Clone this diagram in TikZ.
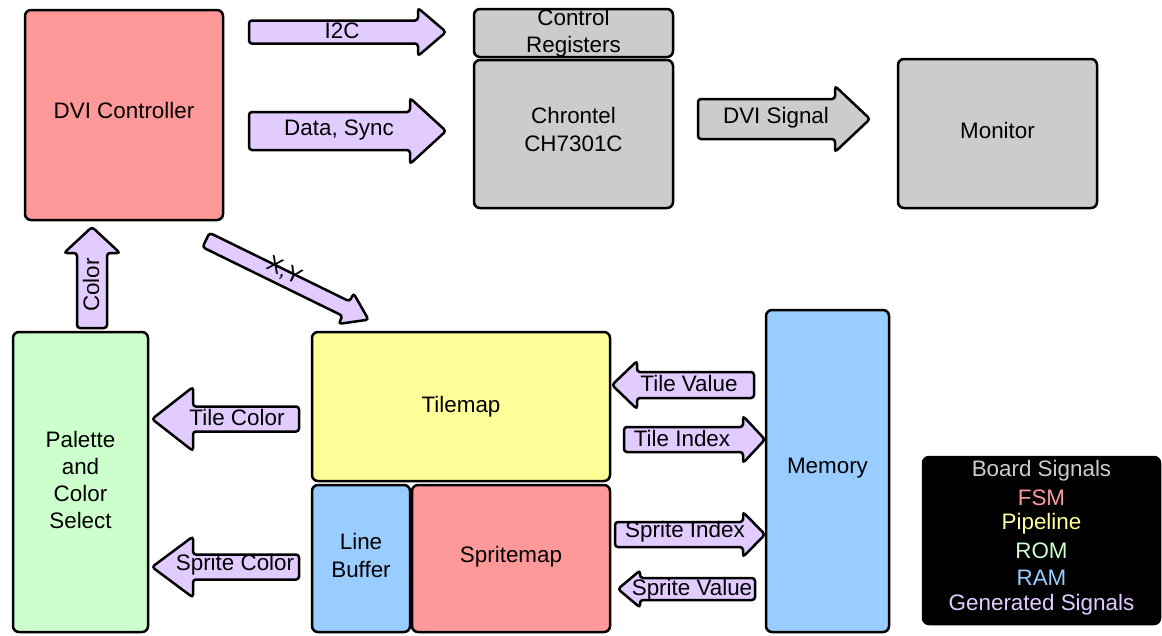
\documentclass[tikz,border=0pt]{standalone}
\usepackage{fontspec}
\setmainfont{Liberation Sans}
\definecolor{fsm}{HTML}{FF9999}
\definecolor{board}{HTML}{CCCCCC}
\definecolor{rom}{HTML}{CCFFCC}
\definecolor{pipe}{HTML}{FFFF99}
\definecolor{ram}{HTML}{99CCFF}
\definecolor{gen}{HTML}{E2CCFF}
\newcommand\blockarrow[9]{%
  \begin{scope}[shift={(#1,#2)},rotate=#4]
    \draw[arrowshape,fill=#9] (0,-#5) -- ({#3-#7},-#5) -- ({#3-#7},-#6) -- (#3,0)
      -- ({#3-#7},#6) -- ({#3-#7},#5) -- (0,#5) -- cycle;
  \end{scope}%
  \node[lbl] (#8) at ({#1+cos(#4)*(#3-#7)/2},{#2-sin(#4)*(#3-#7)/2}) {};%
}
\begin{document}
\begin{tikzpicture}[x=1pt,y=-1pt,
  every node/.style={font=\fontsize{22.4}{27.3}\selectfont},
  box/.style={draw,line width=2.5pt,rounded corners=6pt,align=center,inner sep=0pt},
  arrowshape/.style={draw,line width=2.5pt,rounded corners=3pt},
  lbl/.style={inner sep=0pt,minimum size=0pt},
  txt/.style={inner sep=0pt,align=center}]
\useasboundingbox (0,0) rectangle (1162,635);
% blocks
\node[box,fill=fsm,minimum width=198,minimum height=210] (dvi) at (124,115) {};
\node[txt] (dvit) at (124,110) {DVI Controller};
\node[box,fill=board,minimum width=199,minimum height=48] (ctrl) at (573.5,33) {};
\node[txt] (ctrlt) at (573.5,33) {Control\\Registers};
\node[box,fill=board,minimum width=199,minimum height=148] (chron) at (573.5,134) {};
\node[txt] (chront) at (573.5,129.5) {Chrontel\\CH7301C};
\node[box,fill=board,minimum width=199,minimum height=149] (mon) at (997.5,133.5) {};
\node[txt] (mont) at (997.5,130) {Monitor};
\node[box,fill=rom,minimum width=135,minimum height=300] (pal) at (80.5,482) {};
\node[txt] (palt) at (80.5,480) {Palette\\and\\Color\\Select};
\node[box,fill=pipe,minimum width=298,minimum height=149] (tile) at (461,406.5) {Tilemap};
\node[box,fill=ram,minimum width=98,minimum height=147] (lbuf) at (361,558.5) {};
\node[txt] (lbuft) at (361,555.5) {Line\\Buffer};
\node[box,fill=fsm,minimum width=198,minimum height=147] (sprite) at (511,558.5) {};
\node[txt] (spritet) at (511,556.5) {Spritemap};
\node[box,fill=ram,minimum width=123,minimum height=322] (mem) at (827.5,471) {};
\node[txt] (memt) at (827.5,468.5) {Memory};
\node[box,fill=black,draw=black,minimum width=237,minimum height=167] (legend) at (1041.5,540.5) {};
\node[txt,text=board] (lg1) at (1041.5,470.5) {Board Signals};
\node[txt,text=fsm] (lg2) at (1041.5,497.5) {FSM};
\node[txt,text=pipe] (lg3) at (1041.5,524) {Pipeline};
\node[txt,text=rom] (lg4) at (1041.5,551) {ROM};
\node[txt,text=ram] (lg5) at (1041.5,578) {RAM};
\node[txt,text=gen] (lg6) at (1041.5,605) {Generated Signals};
% block arrows: x0,y0,length,angle,shaft half,head half,head length,name,fill
\blockarrow{249}{32}{197}{0}{11.5}{24}{28}{a1}{gen}
\node[txt] (l1) at (342,31) {I2C};
\blockarrow{249}{131}{197}{0}{19}{33}{36}{a2}{gen}
\node[txt] (l2) at (339,130) {Data, Sync};
\blockarrow{698}{119}{172}{0}{20}{33}{35}{a3}{board}
\node[txt] (l3) at (776,118) {DVI Signal};
\blockarrow{92}{328}{101}{90}{15}{28}{26}{a4}{gen}
\node[txt,rotate=90] (l4) at (91,285) {Color};
\blockarrow{206}{240}{181}{-26.1}{8}{17}{25}{a5}{gen}
\node[txt,rotate=-26.1] (l5) at (284,271) {X,Y};
\blockarrow{299}{419}{147}{180}{12.5}{32}{41}{a6}{gen}
\node[txt] (l6) at (237,417) {Tile Color};
\blockarrow{299}{567}{147}{180}{12.5}{30.5}{41}{a7}{gen}
\node[txt] (l7) at (235,565) {Sprite Color};
\blockarrow{754}{385}{142}{180}{13}{24}{25}{a8}{gen}
\node[txt] (l8) at (689,383) {Tile Value};
\blockarrow{624}{439.5}{141}{0}{12.5}{23.5}{22}{a9}{gen}
\node[txt] (l9) at (682,438) {Tile Index};
\blockarrow{615}{534.5}{150}{0}{12.5}{22.5}{22}{a10}{gen}
\node[txt] (l10) at (685,532) {Sprite Index};
\blockarrow{755}{589}{137}{180}{11}{18.5}{22}{a11}{gen}
\node[txt] (l11) at (692,590) {Sprite Value};
\end{tikzpicture}
\end{document}
